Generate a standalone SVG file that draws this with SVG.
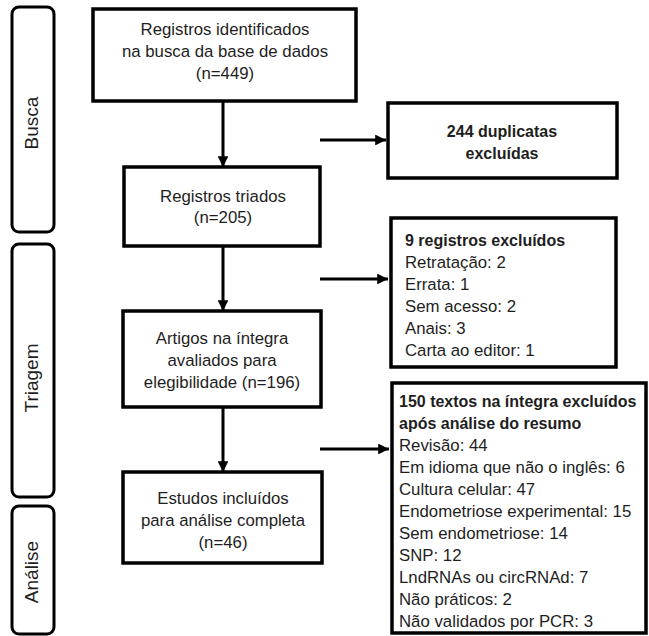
<svg xmlns="http://www.w3.org/2000/svg" width="649" height="636" viewBox="0 0 649 636">
<style>
.box{fill:#fff;stroke:#000;stroke-width:3.5}
.side{fill:#fff;stroke:#000;stroke-width:3}
.t{font-family:"Liberation Sans",Arial,sans-serif;font-size:16.8px;fill:#1e1e1e}
.c{text-anchor:middle}
.b{font-weight:bold;font-size:16px}
.lab{font-family:"Liberation Sans",Arial,sans-serif;font-size:19px;fill:#1e1e1e;text-anchor:middle}
.con{stroke:#000;stroke-width:3;fill:none;marker-end:url(#ah)}
</style>
<defs>
<marker id="ah" viewBox="0 0 10 10" refX="10" refY="5" markerWidth="3.6" markerHeight="3.6" orient="auto" markerUnits="strokeWidth">
<path d="M0,0 L10,5 L0,10 z" fill="#000"/>
</marker>
</defs>
<rect width="649" height="636" fill="#fff"/>
<g id="busca">
<rect class="side" x="12" y="7" width="42" height="225" rx="7"/>
<text class="lab" transform="translate(38,123) rotate(-90)">Busca</text>
</g>
<g id="triagem">
<rect class="side" x="12" y="244" width="42" height="253" rx="7"/>
<text class="lab" transform="translate(38,378) rotate(-90)">Triagem</text>
</g>
<g id="analise">
<rect class="side" x="12" y="506" width="42" height="128" rx="7"/>
<text class="lab" transform="translate(38,572) rotate(-90)">Análise</text>
</g>
<g id="connectors">
<path class="con" d="M223,101 V167"/>
<path class="con" d="M223,246 V311"/>
<path class="con" d="M223,407 V472"/>
<path class="con" d="M320,140 H386"/>
<path class="con" d="M320,279 H388"/>
<path class="con" d="M320,449 H389"/>
</g>
<g id="n1">
<rect class="box" x="93" y="9" width="263" height="92"/>
<text class="t c" x="225" y="35">Registros identificados</text>
<text class="t c" x="225" y="57">na busca da base de dados</text>
<text class="t c" x="225" y="79">(n=449)</text>
</g>
<g id="n2">
<rect class="box" x="124" y="167" width="196" height="79"/>
<text class="t c" x="223" y="202">Registros triados</text>
<text class="t c" x="223" y="223">(n=205)</text>
</g>
<g id="n3">
<rect class="box" x="123" y="311" width="198" height="96"/>
<text class="t c" x="222" y="344">Artigos na íntegra</text>
<text class="t c" x="222" y="366">avaliados para</text>
<text class="t c" x="222" y="388">elegibilidade (n=196)</text>
</g>
<g id="n4">
<rect class="box" x="123" y="472" width="199" height="91"/>
<text class="t c" x="223" y="504">Estudos incluídos</text>
<text class="t c" x="223" y="526">para análise completa</text>
<text class="t c" x="223" y="548">(n=46)</text>
</g>
<g id="r1">
<rect class="box" x="388" y="103" width="229" height="75"/>
<text class="t c b" x="502" y="137">244 duplicatas</text>
<text class="t c b" x="502" y="159">excluídas</text>
</g>
<g id="r2">
<rect class="box" x="391" y="218" width="225" height="149"/>
<text class="t b" x="405" y="246">9 registros excluídos</text>
<text class="t" x="405" y="268">Retratação: 2</text>
<text class="t" x="405" y="290">Errata: 1</text>
<text class="t" x="405" y="312">Sem acesso: 2</text>
<text class="t" x="405" y="334">Anais: 3</text>
<text class="t" x="405" y="356">Carta ao editor: 1</text>
</g>
<g id="r3">
<rect class="box" x="392" y="383" width="254" height="250"/>
<text class="t b" x="399" y="407">150 textos na íntegra excluídos</text>
<text class="t b" x="399" y="429">após análise do resumo</text>
<text class="t" x="399" y="451">Revisão: 44</text>
<text class="t" x="399" y="473">Em idioma que não o inglês: 6</text>
<text class="t" x="399" y="495">Cultura celular: 47</text>
<text class="t" x="399" y="517">Endometriose experimental: 15</text>
<text class="t" x="399" y="539">Sem endometriose: 14</text>
<text class="t" x="399" y="561">SNP: 12</text>
<text class="t" x="399" y="583">LndRNAs ou circRNAd: 7</text>
<text class="t" x="399" y="605">Não práticos: 2</text>
<text class="t" x="399" y="627">Não validados por PCR: 3</text>
</g>
</svg>
